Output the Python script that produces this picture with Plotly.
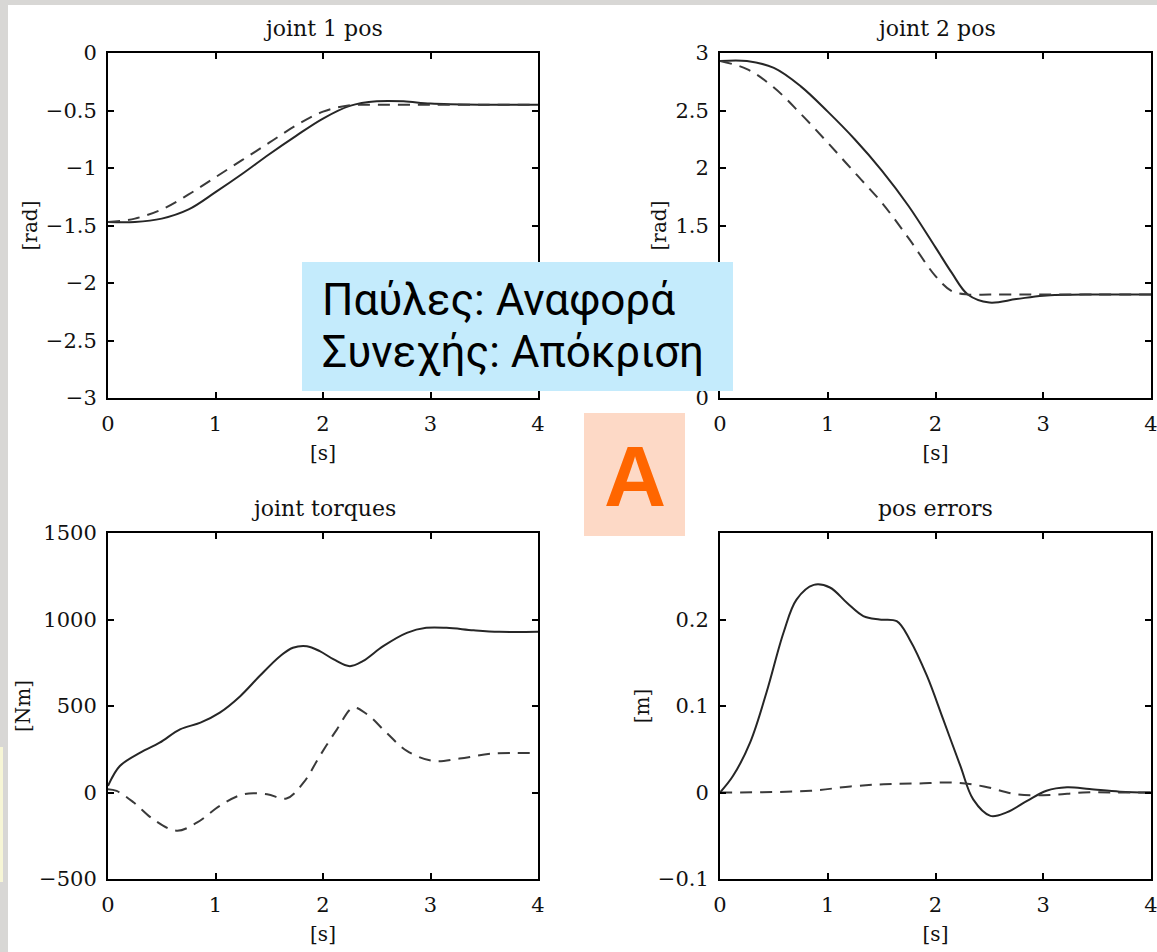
import plotly.graph_objects as go

W, H = 1157, 952

# ---- joint 1 position [rad] ----
t_j1 = [0, 0.25, 0.5, 0.75, 1.0, 1.25, 1.5, 1.75, 2.0, 2.25, 2.5, 2.75, 3.0, 3.5, 4.0]
j1_ref = [-1.47, -1.44, -1.36, -1.23, -1.08, -0.93, -0.78, -0.63, -0.51, -0.455, -0.45, -0.45, -0.45, -0.45, -0.45]
j1_resp = [-1.47, -1.47, -1.44, -1.36, -1.21, -1.05, -0.88, -0.72, -0.57, -0.46, -0.42, -0.42, -0.44, -0.45, -0.45]

# ---- joint 2 position [rad] ----
t_j2 = [0, 0.25, 0.5, 0.75, 1.0, 1.25, 1.5, 1.75, 2.0, 2.15, 2.3, 2.5, 2.75, 3.0, 3.5, 4.0]
j2_ref = [2.93, 2.86, 2.70, 2.47, 2.22, 1.96, 1.70, 1.39, 1.06, 0.93, 0.90, 0.90, 0.90, 0.90, 0.90, 0.90]
j2_resp = [2.93, 2.93, 2.87, 2.71, 2.49, 2.25, 1.98, 1.67, 1.31, 1.09, 0.90, 0.83, 0.86, 0.89, 0.90, 0.90]

# ---- joint torques [Nm] ----
t_tq1 = [0, 0.11, 0.30, 0.48, 0.67, 0.86, 1.04, 1.23, 1.41, 1.60, 1.72, 1.85, 1.97, 2.10, 2.25,
         2.37, 2.56, 2.78, 2.96, 3.15, 3.40, 3.64, 4.0]
tq1 = [38, 153, 231, 288, 365, 404, 462, 557, 673, 788, 837, 846, 817, 769, 730,
       759, 846, 923, 952, 952, 938, 929, 929]
t_tq2 = [0, 0.08, 0.24, 0.42, 0.64, 0.83, 1.04, 1.26, 1.48, 1.66, 1.82, 1.97, 2.13, 2.28,
         2.41, 2.59, 2.78, 3.03, 3.27, 3.58, 4.0]
tq2 = [19, 9, -58, -154, -221, -173, -77, -10, -10, -35, 58, 211, 365, 490,
       452, 346, 240, 182, 196, 225, 227]

# ---- position errors [m] ----
t_e1 = [0, 0.12, 0.28, 0.43, 0.59, 0.71, 0.87, 1.02, 1.18, 1.33, 1.48, 1.64, 1.76, 1.92, 2.07,
        2.23, 2.35, 2.51, 2.66, 2.85, 3.03, 3.22, 3.43, 3.71, 4.0]
e1 = [0, 0.019, 0.058, 0.115, 0.185, 0.223, 0.240, 0.237, 0.219, 0.204, 0.200, 0.198, 0.177, 0.135, 0.085,
      0.031, -0.008, -0.027, -0.023, -0.0097, 0.002, 0.006, 0.004, 0.001, 0.0]
t_e2 = [0, 0.84, 1.21, 1.52, 1.83, 2.17, 2.45, 2.75, 3.06, 3.37, 3.68, 4.0]
e2 = [0, 0.002, 0.007, 0.0096, 0.0104, 0.0115, 0.007, -0.002, -0.003, 0.0, 0.0, 0.0]

panel_titles = ["joint 1 pos", "joint 2 pos", "joint torques", "pos errors"]
y_units = ["[rad]", "[rad]", "[Nm]", "[m]"]
x_unit = "[s]"
legend_lines = ["Παύλες: Αναφορά", "Συνεχής: Απόκριση"]
badge = "A"

y_ranges = [[-3, 0], [0, 3], [-500, 1500], [-0.1, 0.3]]
y_ticks = [[-3, -2.5, -2, -1.5, -1, -0.5, 0],
           [0, 0.5, 1, 1.5, 2, 2.5, 3],
           [-500, 0, 500, 1000, 1500],
           [-0.1, 0, 0.1, 0.2]]
# joint 2 labels at 0.5 and 1 sit beneath the note box
y_ticktext = [["−3", "−2.5", "−2", "−1.5", "−1", "−0.5", "0"],
              ["0", "", "", "1.5", "2", "2.5", "3"],
              ["−500", "0", "500", "1000", "1500"],
              ["−0.1", "0", "0.1", "0.2"]]
x_ticks = [0, 1, 2, 3, 4]

# panel boxes in pixels: (left, right, top, bottom)
boxes = [(108, 538, 53, 398), (720, 1151, 53, 398),
         (108, 538, 533, 879), (720, 1151, 533, 879)]

SERIF = "DejaVu Serif"
INK = "#111111"

fig = go.Figure()

series = [
    ((t_j1, j1_ref), (t_j1, j1_resp)),
    ((t_j2, j2_ref), (t_j2, j2_resp)),
    ((t_tq2, tq2), (t_tq1, tq1)),
    ((t_e2, e2), (t_e1, e1)),
]

for i, ((ref_t, ref_v), (resp_t, resp_v)) in enumerate(series):
    ax = "" if i == 0 else str(i + 1)
    fig.add_trace(go.Scatter(x=resp_t, y=resp_v, mode="lines", xaxis="x" + ax, yaxis="y" + ax,
                             line=dict(color="#262626", width=2, shape="spline", smoothing=1.0),
                             showlegend=False, hoverinfo="skip"))
    fig.add_trace(go.Scatter(x=ref_t, y=ref_v, mode="lines", xaxis="x" + ax, yaxis="y" + ax,
                             line=dict(color="#3a3a3a", width=2, dash="12px,8px", shape="spline", smoothing=1.0),
                             showlegend=False, hoverinfo="skip"))

axis_common = dict(showline=True, linecolor="black", linewidth=2, mirror="ticks",
                   ticks="inside", ticklen=6, tickwidth=2, tickcolor="black",
                   showgrid=False, zeroline=False, automargin=False,
                   ticklabeloverflow="allow",
                   tickfont=dict(family=SERIF, size=21, color=INK))

layout = {}
for i, (l, r, t, b) in enumerate(boxes):
    suffix = "" if i == 0 else str(i + 1)
    xd = [l / W, r / W]
    yd = [1 - b / H, 1 - t / H]
    layout["xaxis" + suffix] = dict(axis_common, domain=xd, range=[0, 4], tickvals=x_ticks,
                                    anchor="y" + suffix, ticklabelstandoff=6,
                                    title=dict(text=x_unit, standoff=11,
                                               font=dict(family=SERIF, size=20, color=INK)))
    layout["yaxis" + suffix] = dict(axis_common, domain=yd, range=y_ranges[i], tickvals=y_ticks[i],
                                    ticktext=y_ticktext[i],
                                    anchor="x" + suffix, ticklabelstandoff=5,
                                    title=dict(text=y_units[i], standoff=3,
                                               font=dict(family=SERIF, size=20, color=INK)))

fig.update_layout(**layout)

annotations = []
for i, (l, r, t, b) in enumerate(boxes):
    annotations.append(dict(text=panel_titles[i], x=(l + r) / 2 / W, y=1 - (t - 25) / H,
                            xref="paper", yref="paper", showarrow=False,
                            xanchor="center", yanchor="middle",
                            font=dict(family=SERIF, size=22, color=INK)))

# legend note (two lines, 52 px apart) and badge
note = "<br>".join('<span style="font-size:44px">' + s + "</span>" for s in legend_lines)
annotations.append(dict(text=note, x=320 / W, y=1 - 326 / H, xref="paper", yref="paper",
                        showarrow=False, xanchor="left", yanchor="middle", align="left",
                        font=dict(family="Roboto", size=40, color="black")))
annotations.append(dict(text="<b>" + badge + "</b>", x=634.5 / W, y=1 - 476 / H, xref="paper", yref="paper",
                        showarrow=False, xanchor="center", yanchor="middle",
                        font=dict(family="Liberation Sans", size=86, color="#ff6600")))

shapes = [
    # white page over the grey paper texture
    dict(type="rect", xref="paper", yref="paper", x0=8 / W, x1=1, y0=0, y1=1 - 5 / H,
         fillcolor="white", line=dict(width=0), layer="below"),
    dict(type="rect", xref="paper", yref="paper", x0=0, x1=3 / W, y0=1 - 882 / H, y1=1 - 747 / H,
         fillcolor="#f7f6d6", line=dict(width=0), layer="below"),
    # note box
    dict(type="rect", xref="paper", yref="paper", x0=302 / W, x1=733 / W, y0=1 - 391 / H, y1=1 - 262 / H,
         fillcolor="#c4ebfc", line=dict(width=0), layer="above"),
    # badge box
    dict(type="rect", xref="paper", yref="paper", x0=584 / W, x1=685 / W, y0=1 - 536 / H, y1=1 - 413 / H,
         fillcolor="#fdd9c6", line=dict(width=0), layer="above"),
]

fig.update_layout(template="none", width=W, height=H, margin=dict(l=0, r=0, t=0, b=0, pad=0),
                  paper_bgcolor="#d8d7d5", plot_bgcolor="white",
                  annotations=annotations, shapes=shapes, showlegend=False)

fig.write_html("out.html")
